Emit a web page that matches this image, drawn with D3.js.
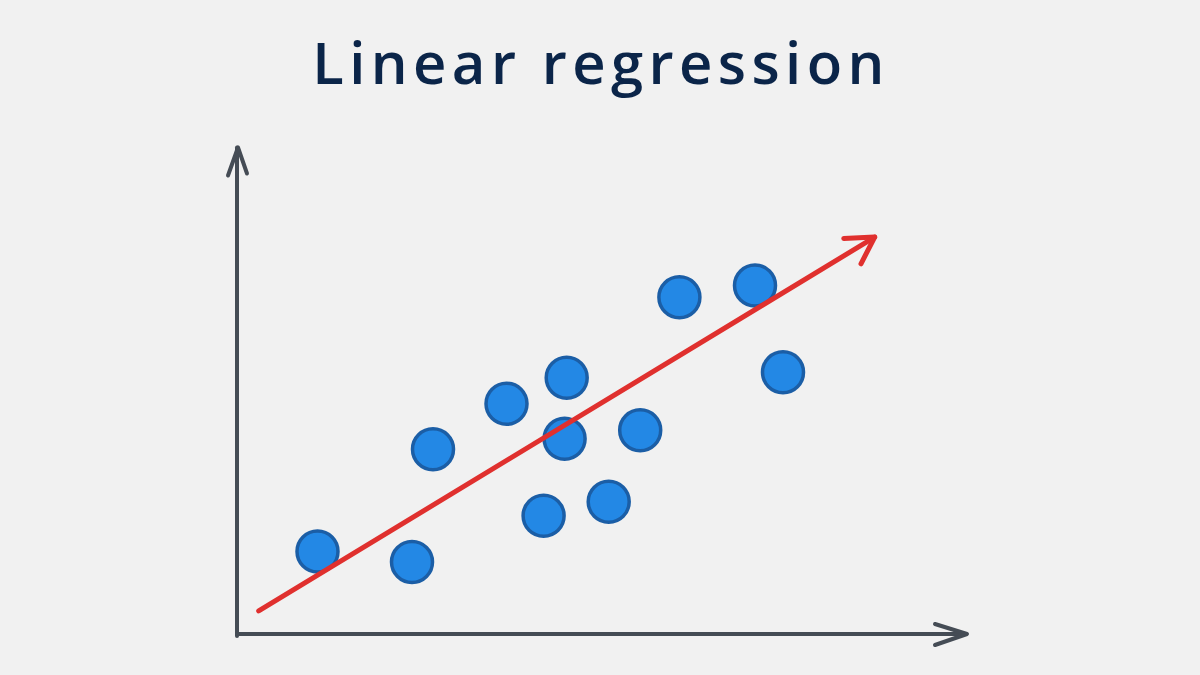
<!DOCTYPE html>
<html>
<head>
<meta charset="utf-8">
<script src="https://cdn.jsdelivr.net/npm/d3@7"></script>
<style>
	html, body { margin: 0; padding: 0; background: #f1f1f1; }
	svg { display: block; }
</style>
</head>
<body>
<svg id="chart"></svg>
<script>
const WIDTH = 1200;
const HEIGHT = 675;
const TITLE = 'Linear regression';

const pointX = [1.15, 2.5, 2.8, 3.85, 4.71, 4.68, 4.38, 5.31, 5.76, 6.32, 7.4, 7.8];
const pointY = [1.18, 1.03, 2.64, 3.29, 3.66, 2.79, 1.69, 1.89, 2.91, 4.81, 4.98, 3.74];

// fitted line, start and end
const fitX = [0.31, 9.11];
const fitY = [0.33, 5.67];

const AXIS_COLOR = '#454c55';
const FIT_COLOR = '#e0302e';
const DOT_FILL = '#2388e5';
const DOT_STROKE = '#1b5ea6';

const $svg = d3.select('#chart').attr('width', WIDTH).attr('height', HEIGHT);

const x = d3.scaleLinear().domain([0, 10]).range([237, 937]);
const y = d3.scaleLinear().domain([0, 7]).range([634, 144]);

$svg.append('rect')
	.attr('width', WIDTH)
	.attr('height', HEIGHT)
	.attr('fill', '#f1f1f1');

// title
$svg.append('text')
	.attr('x', WIDTH / 2 + 1)
	.attr('y', 84)
	.attr('text-anchor', 'middle')
	.attr('font-family', '"Open Sans", sans-serif')
	.attr('font-weight', 600)
	.attr('font-size', 58)
	.attr('letter-spacing', 5.4)
	.attr('fill', '#0b2549')
	.text(TITLE);

// axes, sketch style with open arrowheads
const $axes = $svg.append('g')
	.attr('fill', 'none')
	.attr('stroke', AXIS_COLOR)
	.attr('stroke-width', 4)
	.attr('stroke-linecap', 'round')
	.attr('stroke-linejoin', 'round');

const x0 = x(0);
const y0 = y(0);
const xEnd = x(10.4);
const yEnd = y(6.95);

$axes.append('path').attr('d', `M${x0},${y0 + 2}L${x0},${yEnd}`);
$axes.append('path').attr('d', `M${x0},${y0}L${xEnd},${y0}`);
$axes.append('path').attr('d', `M${x0 - 9},${yEnd + 28}L${x0 + 1},${yEnd}L${x0 + 10},${yEnd + 26}`);
$axes.append('path').attr('d', `M${xEnd - 30},${y0 - 10}L${xEnd + 2},${y0}L${xEnd - 30},${y0 + 11}`);

// points
const points = pointX.map((d, i) => ({ x: d, y: pointY[i] }));

$svg.append('g')
	.selectAll('circle')
	.data(points)
	.join('circle')
	.attr('cx', d => x(d.x))
	.attr('cy', d => y(d.y))
	.attr('r', 20.5)
	.attr('fill', DOT_FILL)
	.attr('stroke', DOT_STROKE)
	.attr('stroke-width', 3.5);

// regression arrow
const fit = fitX.map((d, i) => [x(d), y(fitY[i])]);
const $fit = $svg.append('g')
	.attr('fill', 'none')
	.attr('stroke', FIT_COLOR)
	.attr('stroke-width', 5)
	.attr('stroke-linecap', 'round')
	.attr('stroke-linejoin', 'round');

$fit.append('path').attr('d', d3.line()(fit));

const [tx, ty] = fit[1];
const ang = Math.atan2(ty - fit[0][1], tx - fit[0][0]);
const barb = (len, off) => [tx - len * Math.cos(ang + off), ty - len * Math.sin(ang + off)];
$fit.append('path').attr('d', d3.line()([barb(31, 0.5), [tx, ty], barb(30, -0.55)]));
</script>
</body>
</html>
